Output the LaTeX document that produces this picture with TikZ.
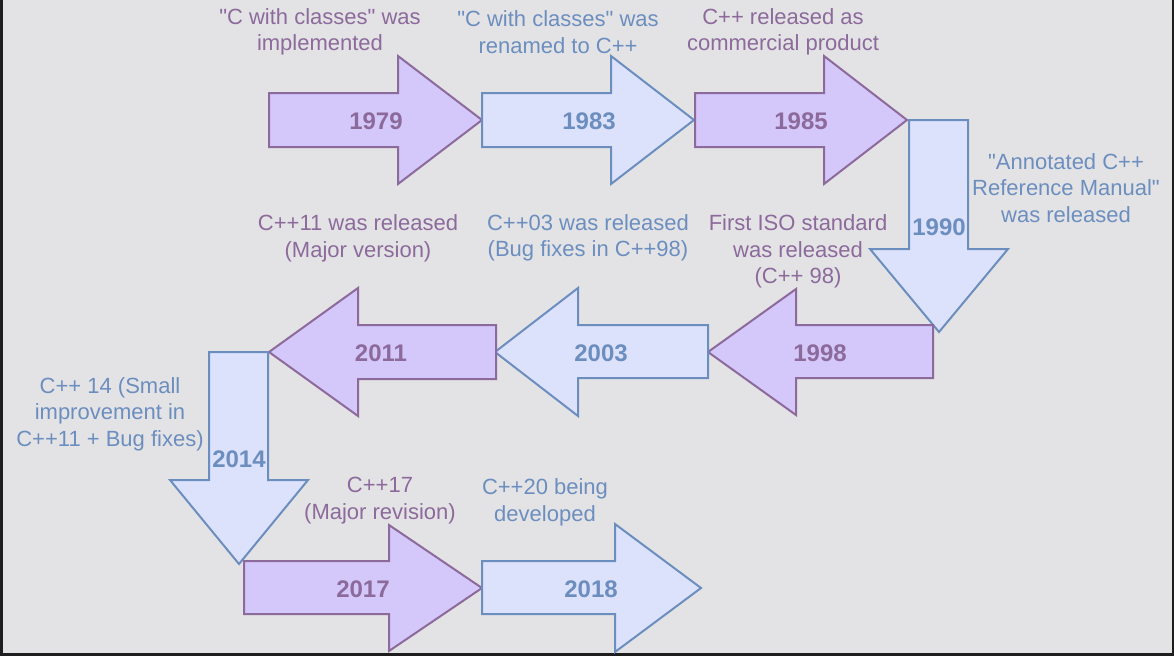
\documentclass[tikz,border=0pt]{standalone}
\usepackage{fontspec}
\setmainfont{Liberation Sans}[Ligatures=TeXOff]
\definecolor{bgc}{RGB}{227,227,229}
\definecolor{framec}{RGB}{30,30,30}
\definecolor{pfill}{RGB}{212,200,251}
\definecolor{pline}{RGB}{140,106,155}
\definecolor{bfill}{RGB}{221,226,252}
\definecolor{bline}{RGB}{108,142,191}
\tikzset{
  parrow/.style={fill=pfill,draw=pline,line width=2pt,line join=miter},
  barrow/.style={fill=bfill,draw=bline,line width=2pt,line join=miter},
  pyear/.style={text=pline,font=\fontsize{24}{28}\selectfont\bfseries,inner sep=0pt},
  byear/.style={text=bline,font=\fontsize{24}{28}\selectfont\bfseries,inner sep=0pt},
  pdesc/.style={text=pline,font=\fontsize{22}{26.5}\selectfont,align=center,inner sep=0pt},
  bdesc/.style={text=bline,font=\fontsize{22}{26.5}\selectfont,align=center,inner sep=0pt}
}
\begin{document}
\begin{tikzpicture}[x=1pt,y=-1pt]
\useasboundingbox (0,0) rectangle (1174,656);
\fill[framec] (0,0) rectangle (1174,656);
\fill[bgc] (3,0) rectangle (1172,653);

% row 1
\draw[parrow] (269,93) -- (398,93) -- (398,56) -- (482,120) -- (398,184) -- (398,147) -- (269,147) -- cycle;
\draw[barrow] (482,93) -- (611,93) -- (611,56) -- (694,120) -- (611,184) -- (611,147) -- (482,147) -- cycle;
\draw[parrow] (695,93) -- (824,93) -- (824,56) -- (907,120) -- (824,184) -- (824,147) -- (695,147) -- cycle;
% 1990 down
\draw[barrow] (909,120) -- (968,120) -- (968,249) -- (1008,249) -- (939,332) -- (870,249) -- (909,249) -- cycle;
% row 2 (leftwards)
\draw[parrow] (933,325) -- (796,325) -- (796,289) -- (708,352) -- (796,415) -- (796,378) -- (933,378) -- cycle;
\draw[barrow] (708,325) -- (578,325) -- (578,288) -- (495,352) -- (578,416) -- (578,378) -- (708,378) -- cycle;
\draw[parrow] (496,325) -- (358,325) -- (358,288) -- (269,352) -- (358,416) -- (358,379) -- (496,379) -- cycle;
% 2014 down
\draw[barrow] (209,352) -- (268,352) -- (268,480) -- (308,480) -- (239,564) -- (170,480) -- (209,480) -- cycle;
% row 3
\draw[parrow] (244,561) -- (389,561) -- (389,525) -- (482,588) -- (389,651) -- (389,614) -- (244,614) -- cycle;
\draw[barrow] (482,561) -- (615,561) -- (615,524) -- (701,588) -- (615,652) -- (615,614) -- (482,614) -- cycle;

% year labels
\node[pyear] (y1979) at (376,121) {1979};
\node[byear] (y1983) at (589,121) {1983};
\node[pyear] (y1985) at (801,121) {1985};
\node[byear] (y1990) at (939,227) {1990};
\node[pyear] (y1998) at (820,353) {1998};
\node[byear] (y2003) at (601,353) {2003};
\node[pyear] (y2011) at (381,353) {2011};
\node[byear] (y2014) at (239,459) {2014};
\node[pyear] (y2017) at (363,589) {2017};
\node[byear] (y2018) at (591,589) {2018};

% descriptions
\node[pdesc] (d1979) at (320,32) {"C with classes" was\\implemented};
\node[bdesc] (d1983) at (558,32) {"C with classes" was\\renamed to C++};
\node[pdesc] (d1985) at (783,32) {C++ released as\\commercial product};
\node[bdesc] (d1990) at (1066,188) {"Annotated C++\\Reference Manual"\\was released};
\node[pdesc] (d1998) at (798,251.5) {First ISO standard\\was released\\(C++ 98)};
\node[bdesc] (d2003) at (588,238) {C++03 was released\\(Bug fixes in C++98)};
\node[pdesc] (d2011) at (358,238.5) {C++11 was released\\(Major version)};
\node[bdesc] (d2014) at (110,414) {C++ 14 (Small\\improvement in\\C++11 + Bug fixes)};
\node[pdesc] (d2017) at (380,500.5) {C++17\\(Major revision)};
\node[bdesc] (d2018) at (545,502.5) {C++20 being\\developed};
\end{tikzpicture}
\end{document}
